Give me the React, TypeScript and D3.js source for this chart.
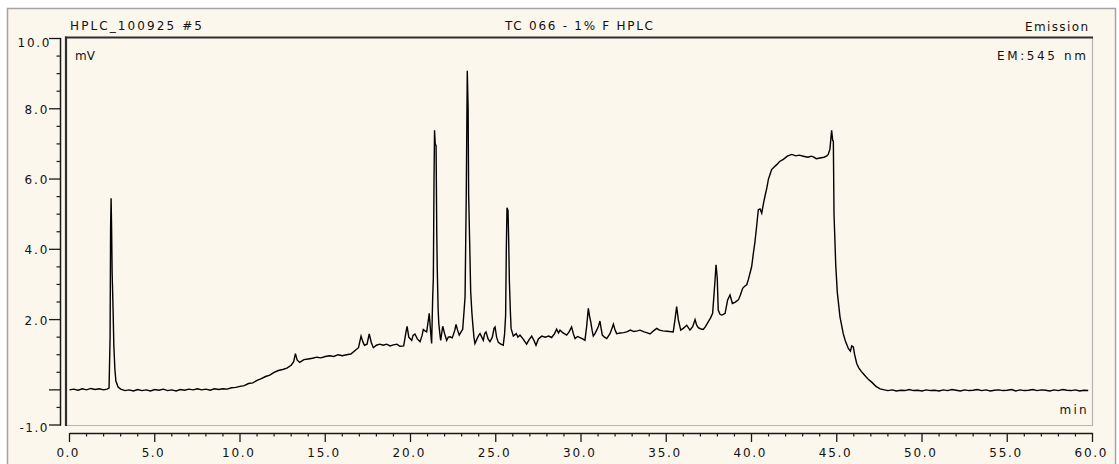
import React from "react";
import * as d3 from "d3";

// Retention time (min) and detector signal (mV)
const retention: number[] = [
  0.0, 0.25, 0.5, 0.75, 1.0, 1.25, 1.5, 1.75, 2.0, 2.2, 2.32, 2.38, 2.41, 2.44, 2.47, 2.5, 2.56, 2.6, 2.66, 2.72, 2.85,
  3.0, 3.25, 3.5, 3.75, 4.0, 4.25, 4.5, 4.75, 5.0, 5.25, 5.5, 5.75, 6.0, 6.25, 6.5, 6.75, 7.0, 7.25, 7.5, 7.75,
  8.0, 8.25, 8.5, 8.75, 9.0, 9.25, 9.5, 9.75, 10.0, 10.25, 10.5, 10.75, 11.0, 11.25, 11.5, 11.75, 12.0, 12.25,
  12.5, 12.75, 13.0, 13.15, 13.25, 13.35, 13.5, 13.75, 14.0, 14.25, 14.5, 14.75, 15.0, 15.25, 15.5, 15.75, 16.0,
  16.25, 16.5, 16.75, 16.95, 17.1, 17.22, 17.3, 17.45, 17.58, 17.7, 17.82, 18.0, 18.2, 18.4, 18.6, 18.8, 19.0,
  19.2, 19.38, 19.6, 19.72, 19.8, 19.9, 20.07, 20.15, 20.26, 20.4, 20.56, 20.68, 20.75, 20.85, 20.95, 21.05, 21.1,
  21.18, 21.24, 21.3, 21.34, 21.38, 21.41, 21.45, 21.5, 21.54, 21.57, 21.62, 21.66, 21.72, 21.77, 21.89, 22.0,
  22.12, 22.22, 22.32, 22.45, 22.6, 22.67, 22.76, 22.86, 23.0, 23.06, 23.15, 23.2, 23.27, 23.33, 23.38, 23.41,
  23.47, 23.53, 23.6, 23.65, 23.72, 23.78, 23.9, 24.0, 24.08, 24.18, 24.27, 24.35, 24.43, 24.55, 24.66, 24.8,
  24.9, 24.96, 25.05, 25.15, 25.3, 25.44, 25.52, 25.58, 25.62, 25.66, 25.72, 25.76, 25.8, 25.86, 25.9, 26.03,
  26.2, 26.3, 26.42, 26.6, 26.81, 26.95, 27.11, 27.25, 27.36, 27.5, 27.7, 27.9, 28.1, 28.28, 28.45, 28.57, 28.68,
  28.77, 28.95, 29.16, 29.3, 29.45, 29.55, 29.65, 29.8, 29.94, 30.1, 30.23, 30.33, 30.43, 30.5, 30.57, 30.65,
  30.72, 30.82, 30.92, 31.02, 31.11, 31.18, 31.25, 31.38, 31.51, 31.7, 31.82, 31.9, 32.0, 32.09, 32.3, 32.5,
  32.68, 32.9, 33.1, 33.3, 33.46, 33.7, 33.9, 34.05, 34.25, 34.44, 34.6, 34.8, 35.03, 35.2, 35.41, 35.51, 35.61,
  35.71, 35.85, 36.0, 36.2, 36.39, 36.55, 36.69, 36.78, 36.88, 37.0, 37.17, 37.3, 37.47, 37.6, 37.72, 37.82,
  37.92, 37.99, 38.05, 38.15, 38.25, 38.35, 38.45, 38.6, 38.74, 38.88, 39.05, 39.23, 39.35, 39.48, 39.6, 39.72,
  39.81, 39.91, 40.01, 40.11, 40.2, 40.3, 40.4, 40.5, 40.6, 40.7, 40.79, 40.9, 40.99, 41.1, 41.18, 41.3, 41.48,
  41.65, 41.87, 42.1, 42.36, 42.6, 42.8, 43.04, 43.3, 43.5, 43.63, 43.8, 44.02, 44.25, 44.4, 44.5, 44.6, 44.7,
  44.76, 44.8, 44.84, 44.94, 45.03, 45.19, 45.38, 45.5, 45.68, 45.8, 45.88, 45.97, 46.05, 46.17, 46.3, 46.45,
  46.56, 46.7, 46.85, 47.05, 47.3, 47.54, 47.8, 48.0, 48.25, 48.5, 48.75, 49.0, 49.25, 49.5, 49.75, 50.0, 50.25,
  50.5, 50.75, 51.0, 51.25, 51.5, 51.75, 52.0, 52.25, 52.5, 52.75, 53.0, 53.25, 53.5, 53.75, 54.0, 54.25, 54.5,
  54.75, 55.0, 55.25, 55.5, 55.75, 56.0, 56.25, 56.5, 56.75, 57.0, 57.25, 57.5, 57.75, 58.0, 58.25, 58.5, 58.75,
  59.0, 59.25, 59.5, 59.75, 60.0,
];

const signal: number[] = [
  0.0, 0.02, -0.01, 0.03, 0.0, 0.04, 0.01, 0.03, 0.0, 0.02, 0.05, 1.5, 4.6, 5.45, 4.6, 3.35, 2.2, 1.27, 0.6, 0.25, 0.08,
  0.02, -0.02, 0.0, -0.03, 0.01, -0.02, 0.0, -0.03, 0.01, -0.01, 0.02, -0.02, 0.0, -0.03, 0.01, -0.01, 0.02, 0.0, 0.03, 0.0,
  0.02, -0.01, 0.03, 0.01, 0.03, 0.02, 0.06, 0.07, 0.1, 0.12, 0.18, 0.2, 0.27, 0.32, 0.38, 0.42, 0.5, 0.55,
  0.58, 0.62, 0.7, 0.8, 1.03, 0.85, 0.78, 0.86, 0.88, 0.9, 0.93, 0.91, 0.95, 0.97, 0.95, 1.0, 0.97,
  1.0, 1.02, 1.12, 1.2, 1.53, 1.35, 1.27, 1.3, 1.59, 1.35, 1.2, 1.27, 1.3, 1.27, 1.3, 1.25, 1.28,
  1.3, 1.24, 1.25, 1.6, 1.81, 1.5, 1.41, 1.55, 1.59, 1.45, 1.37, 1.55, 1.72, 1.68, 1.65, 2.0, 2.18,
  1.65, 1.32, 2.6, 3.19, 6.0, 7.39, 7.0, 6.95, 4.5, 3.43, 2.3, 1.89, 1.6, 1.41, 1.81, 1.6,
  1.41, 1.5, 1.51, 1.48, 1.7, 1.86, 1.7, 1.56, 1.68, 1.72, 2.3, 2.65, 5.5, 9.08, 8.0, 5.56,
  4.2, 2.79, 2.2, 1.89, 1.5, 1.32, 1.45, 1.55, 1.6, 1.5, 1.41, 1.6, 1.65, 1.45, 1.37, 1.5,
  1.75, 1.79, 1.5, 1.35, 1.3, 1.27, 1.6, 2.13, 4.0, 5.18, 5.1, 4.2, 3.08, 2.2, 1.75, 1.53,
  1.6, 1.5, 1.56, 1.45, 1.3, 1.42, 1.53, 1.4, 1.27, 1.45, 1.53, 1.5, 1.53, 1.49, 1.6, 1.73, 1.62,
  1.7, 1.62, 1.56, 1.65, 1.79, 1.6, 1.46, 1.52, 1.49, 1.45, 1.41, 1.8, 2.32, 2.1, 1.94, 1.7,
  1.53, 1.6, 1.7, 1.8, 1.96, 1.75, 1.56, 1.5, 1.46, 1.6, 1.75, 1.87, 1.7, 1.6, 1.62, 1.63,
  1.65, 1.7, 1.66, 1.68, 1.7, 1.65, 1.62, 1.59, 1.68, 1.75, 1.7, 1.68, 1.67, 1.66, 1.65, 1.99, 2.37,
  1.99, 1.7, 1.75, 1.84, 1.7, 1.8, 2.0, 1.85, 1.77, 1.74, 1.72, 1.8, 1.94, 2.05, 2.18, 2.84,
  3.56, 3.18, 2.27, 2.15, 2.13, 2.15, 2.18, 2.56, 2.7, 2.46, 2.5, 2.56, 2.7, 2.89, 2.95, 2.99,
  3.13, 3.32, 3.51, 3.89, 4.2, 4.65, 5.13, 5.15, 5.03, 5.3, 5.51, 5.75, 5.99, 6.15, 6.27, 6.33, 6.41,
  6.5, 6.56, 6.65, 6.7, 6.66, 6.68, 6.65, 6.62, 6.65, 6.63, 6.58, 6.6, 6.62, 6.65, 6.7, 6.85, 7.39,
  7.1, 7.08, 4.99, 3.56, 2.79, 2.08, 1.6, 1.4, 1.18, 1.1, 1.25, 1.22, 1.0, 0.75, 0.62, 0.52,
  0.46, 0.38, 0.3, 0.22, 0.1, 0.03, 0.0, -0.02, 0.0, -0.03, -0.01, -0.02, 0.01, -0.02, -0.01, -0.03, 0.0,
  -0.02, -0.01, -0.03, 0.0, -0.02, 0.01, -0.01, -0.03, 0.0, -0.02, -0.01, 0.01, -0.02, 0.0, -0.03, -0.01, 0.0,
  -0.02, -0.01, 0.01, -0.03, 0.0, -0.02, -0.01, 0.01, -0.02, 0.0, -0.01, -0.03, 0.0, -0.02, 0.01, -0.01,
  -0.02, 0.0, -0.03, -0.01, -0.02,
];

const yMajorTicks: number[] = [10, 8, 6, 4, 2, 0, -1];
const yTickLabels: string[] = ["10.0", "8.0", "6.0", "4.0", "2.0", "", "-1.0"];
const xMajorTicks: number[] = [0, 5, 10, 15, 20, 25, 30, 35, 40, 45, 50, 55, 60];
const xTickLabels: string[] = ["0.0", "5.0", "10.0", "15.0", "20.0", "25.0", "30.0", "35.0", "40.0", "45.0", "50.0", "55.0", "60.0"];

const titleLeft = "HPLC_100925 #5";
const titleCenter = "TC 066 - 1% F HPLC";
const titleRight = "Emission";
const yUnit = "mV";
const channel = "EM:545 nm";
const xUnit = "min";

const W = 1119;
const H = 464;
const FONT = "'DejaVu Sans', Verdana, sans-serif";
const FS = 12;
const CREAM = "#fcf7ec";

export default function App() {
  const x = d3.scaleLinear().domain([0, 60]).range([69.5, 1092.5]);
  const y = d3.scaleLinear().domain([-1, 10]).range([425, 38.5]);

  const pts: [number, number][] = retention.map((t, i) => [t, signal[i]]);
  const line = d3
    .line<[number, number]>()
    .x((d) => x(d[0]))
    .y((d) => y(d[1]));

  const yMinor = d3.range(-1, 10.001, 0.5).filter((v) => !yMajorTicks.some((m) => Math.abs(m - v) < 1e-6));
  const xMinor = d3.range(0, 60.001, 1).filter((v) => v % 5 !== 0);

  const axisColor = "#1a1a1a";
  const textColor = "#111";

  const lenFor = (s: string) => (s.length >= 4 ? (s.startsWith("-") ? 28 : 32) : 23);

  return (
    <svg
      width={W}
      height={H}
      style={{ position: "absolute", left: 0, top: 0, display: "block", background: "#ffffff" }}
      fontFamily={FONT}
    >
      <defs>
        <clipPath id="plotClip">
          <rect x={67.5} y={38.5} width={1092.5 - 67.5} height={425 - 38.5} />
        </clipPath>
      </defs>
      {/* outer panel */}
      <rect x={7.5} y={8.5} width={1108} height={470} fill={CREAM} stroke="#a4a4a4" strokeWidth={1.5} />

      {/* header texts */}
      <text x={70} y={30} fontSize={FS} fill={textColor} textLength={132} lengthAdjust="spacing">
        {titleLeft}
      </text>
      <text x={505} y={30} fontSize={FS} fill={textColor} textLength={148} lengthAdjust="spacing">
        {titleCenter}
      </text>
      <text x={1025} y={30.5} fontSize={FS} fill={textColor} textLength={63} lengthAdjust="spacing">
        {titleRight}
      </text>

      {/* plot frame: light right/bottom, dark top/left */}
      <line x1={1092.5} y1={37} x2={1092.5} y2={425.5} stroke="#b4b4b4" strokeWidth={1.2} />
      <line x1={66} y1={425.5} x2={1093} y2={425.5} stroke="#b4b4b4" strokeWidth={1.2} />
      <line x1={65} y1={37.5} x2={1093} y2={37.5} stroke="#2e2e2e" strokeWidth={2.2} />
      <line x1={66} y1={36.5} x2={66} y2={426} stroke="#2e2e2e" strokeWidth={2.2} />

      {/* inner labels */}
      <text x={75} y={60} fontSize={FS} fill={textColor}>
        {yUnit}
      </text>
      <text x={997} y={60} fontSize={FS} fill={textColor} textLength={89} lengthAdjust="spacing">
        {channel}
      </text>
      <text x={1059.5} y={414} fontSize={FS} fill={textColor} textLength={27} lengthAdjust="spacing">
        {xUnit}
      </text>

      {/* trace */}
      <g clipPath="url(#plotClip)">
        <path d={line(pts) || ""} fill="none" stroke="#000" strokeWidth={1.4} strokeLinejoin="miter" />
      </g>

      {/* y axis */}
      <line x1={60.5} y1={38} x2={60.5} y2={425.5} stroke={axisColor} strokeWidth={1.5} />
      {yMajorTicks.map((v, i) => (
        <g key={"ym" + v}>
          <line x1={49} y1={y(v)} x2={61} y2={y(v)} stroke={axisColor} strokeWidth={1.3} />
          {yTickLabels[i] && (
            <text
              x={(v === 10 ? 49.5 : 47.5) - lenFor(yTickLabels[i])}
              y={v === 10 ? 46.7 : v === -1 ? 431.7 : y(v) + 5}
              fontSize={FS}
              fill={textColor}
              textLength={lenFor(yTickLabels[i])}
              lengthAdjust="spacing"
            >
              {yTickLabels[i]}
            </text>
          )}
        </g>
      ))}
      {yMinor.map((v) => (
        <line key={"yn" + v} x1={56.5} y1={y(v)} x2={61} y2={y(v)} stroke={axisColor} strokeWidth={1.2} />
      ))}

      {/* x axis */}
      <line x1={69.5} y1={433.5} x2={1093} y2={433.5} stroke={axisColor} strokeWidth={1.5} />
      {xMajorTicks.map((v, i) => {
        const len = xTickLabels[i].length >= 4 ? 32 : 22;
        return (
          <g key={"xm" + v}>
            <line x1={x(v)} y1={433} x2={x(v)} y2={442} stroke={axisColor} strokeWidth={1.3} />
            <text
              x={x(v) - 2 - len / 2}
              y={456.5}
              fontSize={FS}
              fill={textColor}
              textLength={len}
              lengthAdjust="spacing"
            >
              {xTickLabels[i]}
            </text>
          </g>
        );
      })}
      {xMinor.map((v) => (
        <line key={"xn" + v} x1={x(v)} y1={433} x2={x(v)} y2={436.5} stroke={axisColor} strokeWidth={1.2} />
      ))}
    </svg>
  );
}
